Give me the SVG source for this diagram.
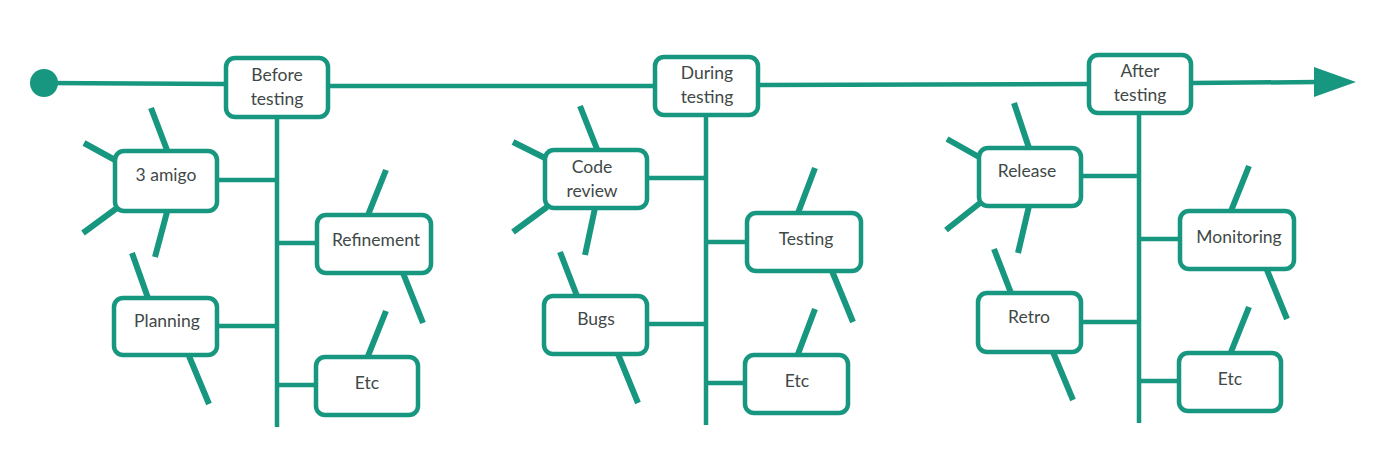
<svg xmlns="http://www.w3.org/2000/svg" width="1400" height="474" viewBox="0 0 1400 474">
<style>
.box{fill:#fff;stroke:#17977f;stroke-width:4.5}
.ln{stroke:#17977f;stroke-width:4.5;fill:none;stroke-linecap:butt}
.sp{stroke:#17977f;stroke-width:6;fill:none}
.t{font-family:Lato,"Open Sans",sans-serif;font-size:17.5px;fill:#3f4947;text-anchor:middle}
</style>
<rect width="1400" height="474" fill="#fff"/>
<g id="connectors">
<circle cx="44" cy="83" r="14" fill="#17977f"/>
<path class="ln" d="M44 83 L226 84 M328 86 L654 86 M759 85 L1088 84 M1192 83 L1318 82"/>
<polygon points="1314,67 1356,82 1314,97" fill="#17977f"/>
<path class="ln" d="M277 118 V427 M218 180 H277 M277 243 H316 M218 326 H277 M277 385 H315"/>
<path class="ln" d="M706 116 V425 M648 178 H706 M706 242 H746 M648 324 H706 M706 383 H744"/>
<path class="ln" d="M1139 114 V423 M1082 176 H1139 M1139 239 H1179 M1082 322 H1139 M1139 381 H1178"/>
<path class="sp" d="M151 108 L167 150 M84 143 L115 160 M83 233 L117 208 M167 212 L155 257 M386 170 L368 215 M403 273 L423 323 M132 253 L148 298 M189 356 L209 404 M386 311 L368 356"/>
<path class="sp" d="M580 106 L597 149 M513 142 L545 158 M513 232 L547 207 M595 208 L585 255 M815 168 L798 213 M832 271 L853 322 M560 252 L577 296 M618 354 L638 403 M815 309 L798 354"/>
<path class="sp" d="M1014 103 L1029 148 M947 139 L979 157 M946 230 L980 203 M1029 206 L1018 253 M1249 166 L1231 211 M1267 270 L1287 319 M994 249 L1011 293 M1053 352 L1073 400 M1249 307 L1231 352"/>
</g>
<g id="before"><rect class="box" x="226" y="58" width="102" height="59" rx="9"/><text class="t" x="277" y="81">Before</text><text class="t" x="277" y="105">testing</text></g>
<g id="amigo"><rect class="box" x="115" y="151" width="102" height="60" rx="9"/><text class="t" x="166" y="181">3 amigo</text></g>
<g id="refinement"><rect class="box" x="317" y="215" width="114" height="58" rx="9"/><text class="t" x="376" y="246">Refinement</text></g>
<g id="planning"><rect class="box" x="114" y="298" width="103" height="57" rx="9"/><text class="t" x="167" y="327">Planning</text></g>
<g id="etc1"><rect class="box" x="316" y="357" width="102" height="58" rx="9"/><text class="t" x="367" y="389">Etc</text></g>
<g id="during"><rect class="box" x="655" y="57" width="103" height="58" rx="9"/><text class="t" x="707" y="79">During</text><text class="t" x="707" y="103">testing</text></g>
<g id="codereview"><rect class="box" x="545" y="150" width="102" height="58" rx="9"/><text class="t" x="592" y="173">Code</text><text class="t" x="592" y="197">review</text></g>
<g id="testing"><rect class="box" x="747" y="213" width="114" height="58" rx="9"/><text class="t" x="806" y="245">Testing</text></g>
<g id="bugs"><rect class="box" x="544" y="296" width="103" height="58" rx="9"/><text class="t" x="596" y="325">Bugs</text></g>
<g id="etc2"><rect class="box" x="745" y="355" width="103" height="58" rx="9"/><text class="t" x="797" y="387">Etc</text></g>
<g id="after"><rect class="box" x="1089" y="55" width="102" height="58" rx="9"/><text class="t" x="1140" y="77">After</text><text class="t" x="1140" y="101">testing</text></g>
<g id="release"><rect class="box" x="979" y="148" width="102" height="58" rx="9"/><text class="t" x="1027" y="177">Release</text></g>
<g id="monitoring"><rect class="box" x="1180" y="211" width="114" height="58" rx="9"/><text class="t" x="1239" y="243">Monitoring</text></g>
<g id="retro"><rect class="box" x="978" y="293" width="103" height="59" rx="9"/><text class="t" x="1029" y="323">Retro</text></g>
<g id="etc3"><rect class="box" x="1179" y="353" width="102" height="58" rx="9"/><text class="t" x="1230" y="385">Etc</text></g>
</svg>
